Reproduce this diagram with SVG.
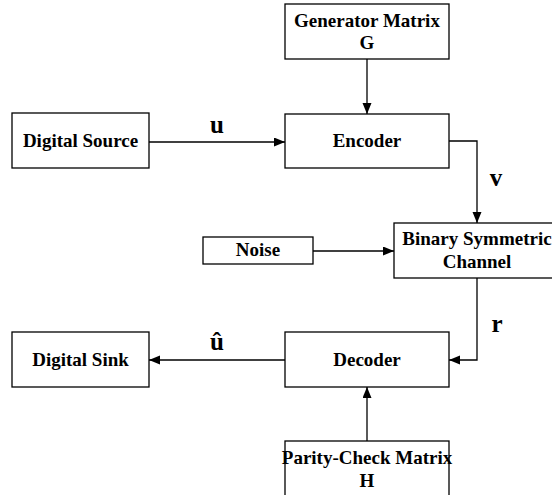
<svg xmlns="http://www.w3.org/2000/svg" width="552" height="495" viewBox="0 0 552 495">
<style>
.box{fill:#fff;stroke:#000;stroke-width:1.3}
.t{font-family:"Liberation Serif","Times New Roman",serif;font-weight:bold;font-size:19px;fill:#000;text-anchor:middle}
.lbl{font-family:"Liberation Serif","Times New Roman",serif;font-weight:bold;font-size:25px;fill:#000;text-anchor:middle}
.c{fill:none;stroke:#000;stroke-width:1.3}
</style>
<defs>
<marker id="ah" markerUnits="userSpaceOnUse" markerWidth="12" markerHeight="10" refX="11" refY="4.5" orient="auto">
<path d="M0,0 L11,4.5 L0,9 z" fill="#000"/>
</marker>
</defs>
<rect width="552" height="495" fill="#fff"/>
<g id="connectors">
<line class="c" x1="367" y1="59" x2="367" y2="114" marker-end="url(#ah)"/>
<line class="c" x1="149" y1="142" x2="285" y2="142" marker-end="url(#ah)"/>
<polyline class="c" points="449,141 477,141 477,223" marker-end="url(#ah)"/>
<line class="c" x1="313" y1="251" x2="394" y2="251" marker-end="url(#ah)"/>
<polyline class="c" points="477,278 477,360 449,360" marker-end="url(#ah)"/>
<line class="c" x1="285" y1="360" x2="149" y2="360" marker-end="url(#ah)"/>
<line class="c" x1="367" y1="441" x2="367" y2="387" marker-end="url(#ah)"/>
<text class="lbl" x="217" y="133">u</text>
<text class="lbl" x="496" y="186">v</text>
<text class="lbl" x="497" y="332">r</text>
<text class="lbl" x="217" y="350">û</text>
</g>
<g id="generator">
<rect class="box" x="285" y="4" width="164" height="55"/>
<text class="t" x="367" y="27">Generator Matrix</text>
<text class="t" x="367" y="49">G</text>
</g>
<g id="source">
<rect class="box" x="12" y="113" width="137" height="55"/>
<text class="t" x="80.5" y="147">Digital Source</text>
</g>
<g id="encoder">
<rect class="box" x="285" y="114" width="164" height="54"/>
<text class="t" x="367" y="147">Encoder</text>
</g>
<g id="noise">
<rect class="box" x="203" y="237" width="110" height="27"/>
<text class="t" x="258" y="256">Noise</text>
</g>
<g id="channel">
<rect class="box" x="394" y="223" width="166" height="55"/>
<text class="t" x="477" y="245">Binary Symmetric</text>
<text class="t" x="477" y="268">Channel</text>
</g>
<g id="decoder">
<rect class="box" x="285" y="332" width="164" height="55"/>
<text class="t" x="367" y="366">Decoder</text>
</g>
<g id="sink">
<rect class="box" x="12" y="332" width="137" height="55"/>
<text class="t" x="80.5" y="366">Digital Sink</text>
</g>
<g id="parity">
<rect class="box" x="285" y="441" width="164" height="60"/>
<text class="t" x="367" y="464">Parity-Check Matrix</text>
<text class="t" x="367" y="487">H</text>
</g>
</svg>
